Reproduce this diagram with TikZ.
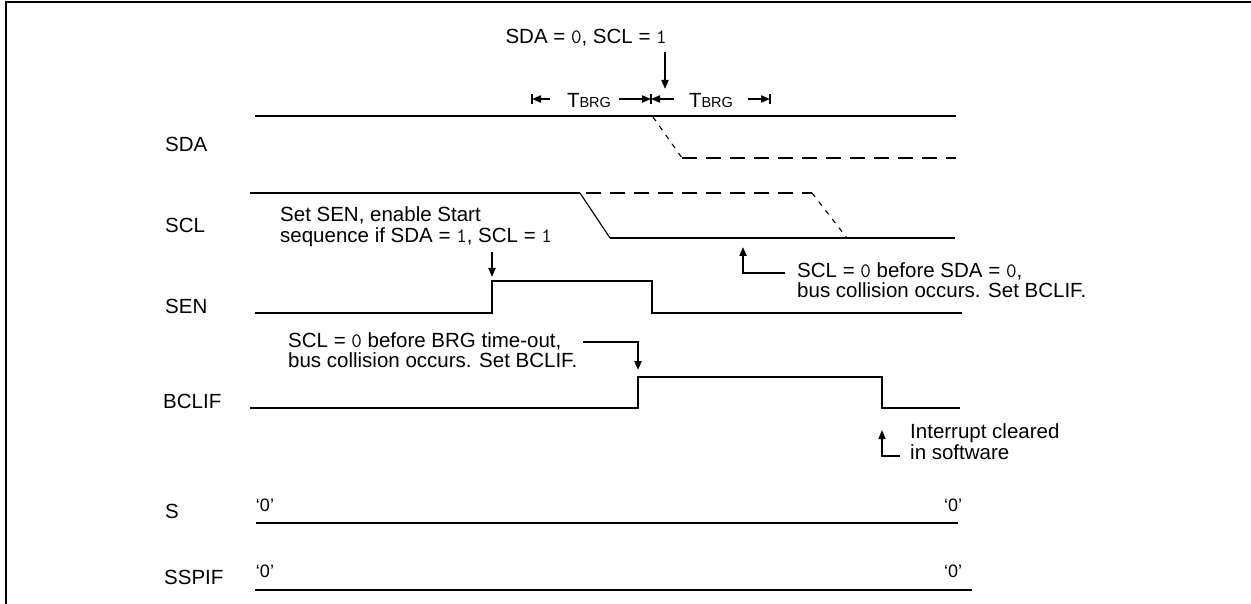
\documentclass[tikz,border=0pt]{standalone}
\usepackage{fontspec}
\setmainfont{Liberation Sans}
\newcommand{\dg}[1]{{\ttfamily #1}}
\usetikzlibrary{arrows.meta}
\begin{document}
\begin{tikzpicture}[x=1pt,y=-1pt,
  font=\fontsize{20.5}{22}\selectfont,
  sig/.style={line width=2.4pt},
  thinsig/.style={line width=1.3pt},
  dsig/.style={line width=2.4pt, dash pattern=on 15pt off 9pt},
  dthin/.style={line width=1.1pt, dash pattern=on 5pt off 6pt},
  arr/.style={line width=2pt, -{Triangle[length=9pt,width=7pt]}},
  tick/.style={line width=2pt},
  lbl/.style={anchor=base west, inner sep=0pt},
  zero/.style={anchor=base, inner sep=0pt, font=\fontsize{18}{18}\selectfont}
]
\useasboundingbox (0,0) rectangle (1251,604);
\draw[line width=2.5pt] (6,604) -- (6,2) -- (1251,2);

% signal names
\node[lbl] (lSDA) at (165,152) {SDA};
\node[lbl] (lSCL) at (165,233) {SCL};
\node[lbl] (lSEN) at (165,313) {SEN};
\node[lbl] (lBCLIF) at (163,408) {BCLIF};
\node[lbl] (lS) at (165,518) {S};
\node[lbl] (lSSPIF) at (164,584) {SSPIF};

% top annotation
\node[anchor=base east, inner sep=0pt] (top) at (667,44) {SDA = \dg{0}, SCL = \dg{1}};
\coordinate (topA) at (665,52);
\coordinate (topB) at (665,89);
\draw[arr] (topA) -- (topB);

% TBRG
\coordinate (tkL) at (532,99);
\coordinate (tkM) at (651,99);
\coordinate (tkR) at (770,99);
\node[anchor=base, inner sep=0pt] (tb1) at (589,108) {T{\fontsize{14.5}{14.5}\selectfont BRG}};
\node[anchor=base, inner sep=0pt] (tb2) at (711,108) {T{\fontsize{14.5}{14.5}\selectfont BRG}};
\coordinate (a1) at (550,99);
\coordinate (a2) at (619,99);
\coordinate (a3) at (674,99);
\coordinate (a4) at (748,99);
\draw[arr] (a1) -- (tkL);
\draw[arr] (a2) -- (tkM);
\draw[arr] (a3) -- (tkM);
\draw[arr] (a4) -- (tkR);
\draw[tick] (532,94) -- (532,104);
\draw[tick] (651,94) -- (651,104);
\draw[tick] (770,94) -- (770,104);

% SDA
\draw[sig] (255,116) -- (956,116);
\draw[dthin] (653,117) -- (682,158);
\draw[dsig] (682,158) -- (956,158);

% SCL
\draw[thinsig] (250,193) -- (580,193);
\draw[line width=1.2pt] (580,193) -- (610,238);
\draw[sig] (610,238) -- (955,238);
\draw[dsig] (586,193) -- (812,193);
\draw[dthin] (812,193) -- (847,238);

% SEN
\draw[sig] (255,313) -- (492,313) -- (492,281) -- (652,281) -- (652,313) -- (962,313);

% BCLIF
\draw[sig] (250,408) -- (638,408) -- (638,377) -- (882,377) -- (882,408) -- (960,408);

% S and SSPIF
\draw[sig] (256,523) -- (958,523);
\node[zero] (s0a) at (265,511) {‘0’};
\node[zero] (s0b) at (953,511) {‘0’};
\draw[sig] (255,590) -- (972,590);
\node[zero] (p0a) at (265,577) {‘0’};
\node[zero] (p0b) at (953,577) {‘0’};

% annotation: Set SEN
\node[lbl] (senA) at (280,222) {Set SEN, enable Start};
\node[lbl] (senB) at (280,243) {sequence if SDA = \dg{1}, SCL = \dg{1}};
\coordinate (senP) at (492,252);
\coordinate (senQ) at (492,277);
\draw[arr] (senP) -- (senQ);

% annotation: SCL=0 before SDA=0
\node[lbl] (colA) at (797,277) {SCL = \dg{0} before SDA = \dg{0},};
\node[lbl] (colB) at (797,298) {bus collision occurs. Set BCLIF.};
\coordinate (colP) at (785,273);
\coordinate (colQ) at (743,273);
\coordinate (colR) at (743,247);
\draw[arr] (colP) -- (colQ) -- (colR);

% annotation: SCL=0 before BRG
\node[lbl] (brgA) at (288,347) {SCL = \dg{0} before BRG time-out,};
\node[lbl] (brgB) at (288,367) {bus collision occurs. Set BCLIF.};
\coordinate (brgP) at (583,342);
\coordinate (brgQ) at (638,342);
\coordinate (brgR) at (638,370);
\draw[arr] (brgP) -- (brgQ) -- (brgR);

% annotation: interrupt cleared
\node[lbl] (intA) at (910,438) {Interrupt cleared};
\node[lbl] (intB) at (910,459) {in software};
\coordinate (intP) at (900,456);
\coordinate (intQ) at (882,456);
\coordinate (intR) at (882,430);
\draw[arr, line width=1.5pt] (intP) -- (intQ) -- (intR);
\end{tikzpicture}
\end{document}
